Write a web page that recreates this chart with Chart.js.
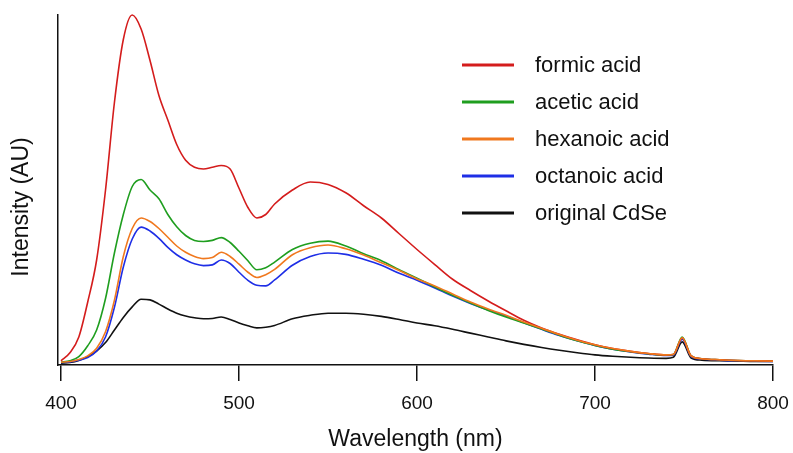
<!DOCTYPE html>
<html>
<head>
<meta charset="utf-8">
<script src="https://cdn.jsdelivr.net/npm/chart.js@4"></script>
<style>
  html, body { margin: 0; padding: 0; background: #fff; }
  #wrap { width: 793px; height: 453px; }
</style>
</head>
<body>
<div id="wrap"><canvas id="myChart" width="793" height="453"></canvas></div>
<script>
// wavelength grid (nm)
const wavelengths = [400,405,410,415,420,425,430,435,440,445,450,455,460,465,470,475,480,485,490,495,500,505,510,515,520,530,540,550,560,570,580,590,600,610,620,630,640,650,660,670,680,690,700,710,720,730,740,744,749,754,760,770,780,790,800];

const formic = [1.2,3.5,8,18,30,50,75,93,100,96,87,77,70,63,58.5,56.5,56,56.5,57,56,50.5,45,42,43,46,50,52.3,51.6,49.2,45.5,42,37.5,33,28.7,24.5,21.3,18.3,15.5,12.8,10.6,8.8,7.2,5.8,4.7,3.9,3.3,2.9,3.0,7.7,2.6,1.8,1.5,1.3,1.2,1.1];
const acetic = [0.8,1.2,2.4,5.5,10,19,32,43,51,53,50,47.5,43,39.5,37,35.6,35.3,35.6,36.4,35,32.5,29.8,27.2,27.8,29.4,33,34.8,35.4,34,31.8,29.8,27.2,24.8,22.3,19.9,17.7,15.6,13.7,12,10.3,8.5,6.9,5.6,4.5,3.8,3.2,2.8,3.0,8.0,2.6,1.8,1.5,1.3,1.2,1.1];
const hexanoic = [0.8,1.0,1.6,2.6,4.8,9.5,18.5,31,39,42,41,39,36.5,34,32.2,31,30.4,30.7,32.2,31,28.8,26.5,25,25.8,27.3,31.5,33.5,34.3,33.2,31.4,29.2,27,24.6,22.6,20.3,18,16,14.2,12.3,10.5,8.7,7.1,5.8,4.7,3.9,3.3,2.9,3.0,7.8,2.6,1.8,1.5,1.3,1.2,1.1];
const octanoic = [0.7,0.9,1.4,2.1,4,8,16.5,28,36,39.4,38.3,36.2,33.6,31.5,30,28.9,28.4,28.6,30,29,26.5,24.2,22.8,22.6,24.3,28.5,31,32,31.6,30.2,28.5,26.2,24.2,22,19.7,17.6,15.7,14,12.1,10.2,8.4,6.9,5.6,4.5,3.7,3.1,2.7,2.8,7.4,2.4,1.7,1.4,1.2,1.1,1.0];
const original = [0.5,0.7,1.3,2.4,4,6.4,10,13.6,16.6,18.8,18.6,17.4,16,14.8,14,13.5,13.2,13.3,13.7,13,12,11.2,10.6,10.8,11.3,13.2,14.2,14.8,14.8,14.5,13.9,13,12,11.2,10.2,9.1,8,6.9,5.9,5,4.2,3.5,2.9,2.5,2.2,2,1.9,2.2,6.6,2.0,1.4,1.2,1.1,1.0,1.0];

const seriesNames = ['formic acid','acetic acid','hexanoic acid','octanoic acid','original CdSe'];
const seriesData = [formic, acetic, hexanoic, octanoic, original];
const seriesColors = ['#d41c1c','#1f9e1f','#f0781e','#1e2ee6','#111111'];
const drawOrder = [2, 3, 0, 4, 5];
const xTicks = [400, 500, 600, 700, 800];

const FONT = "'Liberation Sans', Arial, sans-serif";

// legend + y title drawn by hand to sit where the original has them
const extras = {
  id: 'extras',
  afterDraw(chart) {
    const ctx = chart.ctx;
    ctx.save();
    ctx.font = '22px ' + FONT;
    ctx.textBaseline = 'middle';
    ctx.textAlign = 'left';
    chart.data.datasets.forEach((ds, i) => {
      const y = 65 + i * 37;
      ctx.strokeStyle = ds.borderColor;
      ctx.lineWidth = 3;
      ctx.beginPath();
      ctx.moveTo(462, y);
      ctx.lineTo(514, y);
      ctx.stroke();
      ctx.fillStyle = '#111';
      ctx.fillText(ds.label, 535, y + 1);
    });
    ctx.translate(22, 207);
    ctx.rotate(-Math.PI / 2);
    ctx.textAlign = 'center';
    ctx.font = '23px ' + FONT;
    ctx.fillText('Intensity (AU)', 0, 0);
    ctx.restore();
  }
};

new Chart('myChart', {
  type: 'line',
  data: {
    datasets: seriesNames.map((name, i) => ({
      label: name,
      data: wavelengths.map((w, j) => ({x: w, y: seriesData[i][j]})),
      borderColor: seriesColors[i],
      borderWidth: 1.6,
      pointRadius: 0,
      cubicInterpolationMode: 'monotone',
      order: drawOrder[i],
      clip: false
    }))
  },
  options: {
    responsive: false,
    animation: false,
    layout: { padding: { top: 15, right: 20, left: 0, bottom: 0 } },
    plugins: { legend: { display: false }, tooltip: { enabled: false } },
    scales: {
      x: {
        type: 'linear',
        min: 398.3,
        max: 800,
        afterBuildTicks: (scale) => { scale.ticks = xTicks.map(v => ({value: v})); },
        afterFit: (scale) => { scale.height = 88; scale.paddingLeft = 0; scale.paddingRight = 0; },
        grid: { drawOnChartArea: false, color: '#111', lineWidth: 1.5, tickLength: 16 },
        border: { color: '#111', width: 1.5 },
        ticks: { color: '#111', font: { family: FONT, size: 19 }, padding: 11, maxRotation: 0 },
        title: { display: true, text: 'Wavelength (nm)', color: '#111', font: { family: FONT, size: 23 }, padding: { top: 0, bottom: 0 } }
      },
      y: {
        min: 0,
        max: 100,
        afterFit: (scale) => { scale.width = 58; },
        grid: { display: false },
        border: { color: '#111', width: 1.5 },
        ticks: { display: false }
      }
    }
  },
  plugins: [extras]
});
</script>
</body>
</html>
